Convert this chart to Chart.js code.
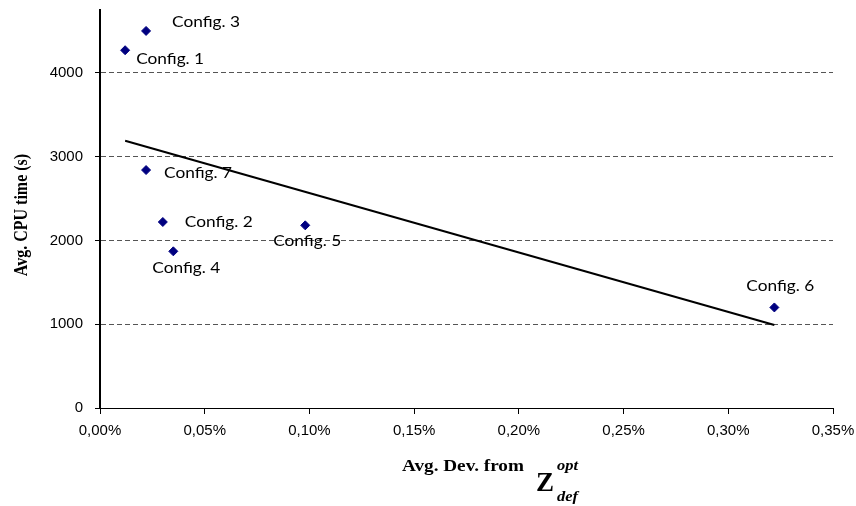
<!DOCTYPE html>
<html>
<head>
<meta charset="utf-8">
<script src="https://cdn.jsdelivr.net/npm/chart.js@4"></script>
<style>
  html, body { margin: 0; padding: 0; background: #fff; }
  #wrap { width: 856px; height: 506px; position: relative; }
</style>
</head>
<body>
<div id="wrap"><canvas id="c" width="856" height="506"></canvas></div>
<script>
// Configurations: average deviation from Z_def^opt (in %) vs. average CPU time (s)
const configNames = ['Config. 1', 'Config. 2', 'Config. 3', 'Config. 4', 'Config. 5', 'Config. 6', 'Config. 7'];
const avgDevPct   = [0.012, 0.030, 0.022, 0.035, 0.098, 0.322, 0.022];
const avgCpuTime  = [4270, 2220, 4500, 1870, 2180, 1200, 2840];

// Axis ranges and tick values
const xRange = [0, 0.35];
const xStep = 0.05;
const yRange = [0, 4750];
const yTickValues = [0, 1000, 2000, 3000, 4000];

// Label placement next to each marker (dx, dy in px, text left-aligned, vertically centred)
const labelOffsets = [[11, 9], [22, 0], [26, -9], [-21, 17], [-32, 16], [-28, -21], [18, 3]];

// Least-squares linear trend over the configurations
function linearTrend(xs, ys) {
  const n = xs.length;
  const mx = xs.reduce((a, b) => a + b, 0) / n;
  const my = ys.reduce((a, b) => a + b, 0) / n;
  let sxy = 0, sxx = 0;
  for (let i = 0; i < n; i++) {
    sxy += (xs[i] - mx) * (ys[i] - my);
    sxx += (xs[i] - mx) * (xs[i] - mx);
  }
  const slope = sxy / sxx;
  const x0 = Math.min(...xs), x1 = Math.max(...xs);
  return [{ x: x0, y: my + slope * (x0 - mx) }, { x: x1, y: my + slope * (x1 - mx) }];
}

const points = avgDevPct.map((x, i) => ({ x: x, y: avgCpuTime[i] }));
const trend = linearTrend(avgDevPct, avgCpuTime);

// draws text slightly widened horizontally
function wideText(ctx, text, x, y, sx) {
  ctx.save();
  ctx.translate(x, y);
  ctx.scale(sx, 1);
  ctx.fillText(text, 0, 0);
  ctx.restore();
}

const pointLabels = {
  id: 'pointLabels',
  afterDatasetsDraw(chart) {
    const meta = chart.getDatasetMeta(0);
    const ctx = chart.ctx;
    ctx.save();
    ctx.font = '15px Lato, "Open Sans", sans-serif';
    ctx.fillStyle = '#000';
    ctx.textAlign = 'left';
    ctx.textBaseline = 'middle';
    meta.data.forEach((el, i) => {
      const [dx, dy] = labelOffsets[i];
      wideText(ctx, configNames[i], el.x + dx, el.y + dy, 1.15);
    });
    ctx.restore();
  }
};

const axisTitles = {
  id: 'axisTitles',
  afterDraw(chart) {
    const ctx = chart.ctx;
    const area = chart.chartArea;
    ctx.save();
    ctx.fillStyle = '#000';
    // vertical axis title
    ctx.save();
    ctx.translate(22, (area.top + area.bottom) / 2 + 6);
    ctx.rotate(-Math.PI / 2);
    ctx.scale(1, 1.15);
    ctx.font = 'bold 16px "Liberation Serif", "Times New Roman", serif';
    ctx.textAlign = 'center';
    ctx.textBaseline = 'middle';
    ctx.fillText('Avg. CPU time (s)', 0, 0);
    ctx.restore();
    // horizontal axis title with Z_def^opt
    ctx.textAlign = 'left';
    ctx.textBaseline = 'alphabetic';
    ctx.font = 'bold 16px "Liberation Serif", "Times New Roman", serif';
    wideText(ctx, 'Avg. Dev. from', 402, 471, 1.2);
    ctx.font = 'bold 27px "Liberation Serif", "Times New Roman", serif';
    ctx.fillText('Z', 536, 491);
    ctx.font = 'bold italic 15px "Liberation Serif", "Times New Roman", serif';
    wideText(ctx, 'opt', 557, 470, 1.1);
    wideText(ctx, 'def', 557, 501, 1.1);
    ctx.restore();
  }
};

new Chart(document.getElementById('c'), {
  type: 'scatter',
  data: {
    datasets: [
      {
        label: 'Configurations',
        data: points,
        pointStyle: 'rectRot',
        pointRadius: 4.5,
        pointHoverRadius: 4.5,
        backgroundColor: '#000080',
        borderColor: '#000080',
        borderWidth: 1,
        showLine: false
      },
      {
        label: 'Linear trend',
        type: 'line',
        data: trend,
        borderColor: '#000',
        borderWidth: 2,
        pointRadius: 0,
        fill: false
      }
    ]
  },
  options: {
    responsive: false,
    animation: false,
    devicePixelRatio: 1,
    layout: { padding: { top: 10, right: 23, left: 0, bottom: 0 } },
    plugins: {
      legend: { display: false },
      tooltip: { enabled: false },
      title: { display: false }
    },
    scales: {
      x: {
        type: 'linear',
        min: xRange[0],
        max: xRange[1],
        afterFit(s) { s.height = 98; s.paddingLeft = 0; s.paddingRight = 0; },
        border: { display: true, color: '#000', width: 1 },
        grid: {
          drawOnChartArea: false,
          drawTicks: true,
          tickLength: 6,
          tickColor: '#000',
          tickWidth: 1
        },
        ticks: {
          stepSize: xStep,
          color: '#000',
          padding: 8,
          maxRotation: 0,
          font: { family: '"Liberation Sans", Arial, sans-serif', size: 15 },
          callback: v => v.toFixed(2).replace('.', ',') + '%'
        }
      },
      y: {
        type: 'linear',
        min: yRange[0],
        max: yRange[1],
        afterFit(s) { s.width = 100; s.paddingTop = 0; s.paddingBottom = 0; },
        afterBuildTicks(s) { s.ticks = yTickValues.map(v => ({ value: v })); },
        border: { display: true, color: '#000', width: 2, dash: [5, 3] },
        grid: {
          color: '#555',
          lineWidth: 1,
          drawTicks: true,
          tickLength: 5,
          tickColor: '#000',
          tickBorderDash: [],
          tickWidth: 1
        },
        ticks: {
          color: '#000',
          padding: 12,
          font: { family: '"Liberation Sans", Arial, sans-serif', size: 15 },
          callback: v => String(v)
        }
      }
    }
  },
  plugins: [pointLabels, axisTitles]
});
</script>
</body>
</html>
